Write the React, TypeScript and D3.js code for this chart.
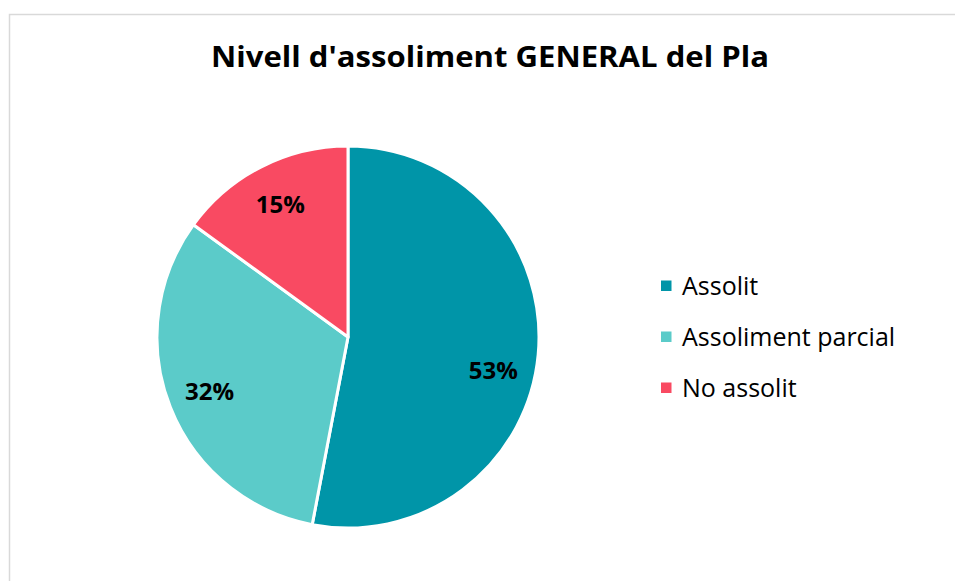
import React from "react";
import * as d3 from "d3";

const categories = ["Assolit", "Assoliment parcial", "No assolit"];
const values = [53, 32, 15];
const colors = ["#0095A8", "#5BCBC9", "#F94A62"];
const title = "Nivell d'assoliment GENERAL del Pla";

export default function App() {
  const W = 955, H = 581;
  const cx = 348, cy = 337, r = 191;
  const font = "'Open Sans', sans-serif";
  const pie = d3.pie<number>().sort(null).value((d) => d)(values);
  const arc = d3.arc<d3.PieArcDatum<number>>().innerRadius(0).outerRadius(r);
  const total = d3.sum(values);
  const legendY = d3.scalePoint<string>().domain(categories).range([286, 388]);
  // Excel "best fit" nudges the largest label slightly downward
  const angleNudge = [0.13, 0, 0];
  const labelR = r * 0.78;
  return (
    <svg width={W} height={H} style={{ position: "fixed", left: 0, top: 0 }}>
      <rect x={0} y={0} width={W} height={H} fill="#fff" />
      <rect x={9.5} y={14.5} width={W + 20} height={H + 20} fill="#fff" stroke="#d9d9d9" strokeWidth={1.5} />
      <text x={490} y={67} textAnchor="middle" fontFamily={font} fontWeight={700} fontSize={28} fill="#000"
        textLength={558} lengthAdjust="spacingAndGlyphs">
        {title}
      </text>
      <g transform={`translate(${cx},${cy})`}>
        {pie.map((p, i) => (
          <path key={i} d={arc(p) || ""} fill={colors[i]} stroke="#fff" strokeWidth={3} strokeLinejoin="round" />
        ))}
        {pie.map((p, i) => {
          const a = (p.startAngle + p.endAngle) / 2 + angleNudge[i];
          const x = Math.sin(a) * labelR;
          const y = -Math.cos(a) * labelR;
          return (
            <text key={"l" + i} x={x} y={y} dy="0.35em" textAnchor="middle" fontFamily={font} fontWeight={700} fontSize={24} fill="#000">
              {Math.round((values[i] / total) * 100)}%
            </text>
          );
        })}
      </g>
      {categories.map((c, i) => (
        <g key={c} transform={`translate(661,${legendY(c)})`}>
          <rect x={0} y={-5.5} width={10.5} height={10.5} fill={colors[i]} />
          <text x={21} y={0} dy="0.34em" fontFamily={font} fontSize={25} fill="#000">
            {c}
          </text>
        </g>
      ))}
    </svg>
  );
}
